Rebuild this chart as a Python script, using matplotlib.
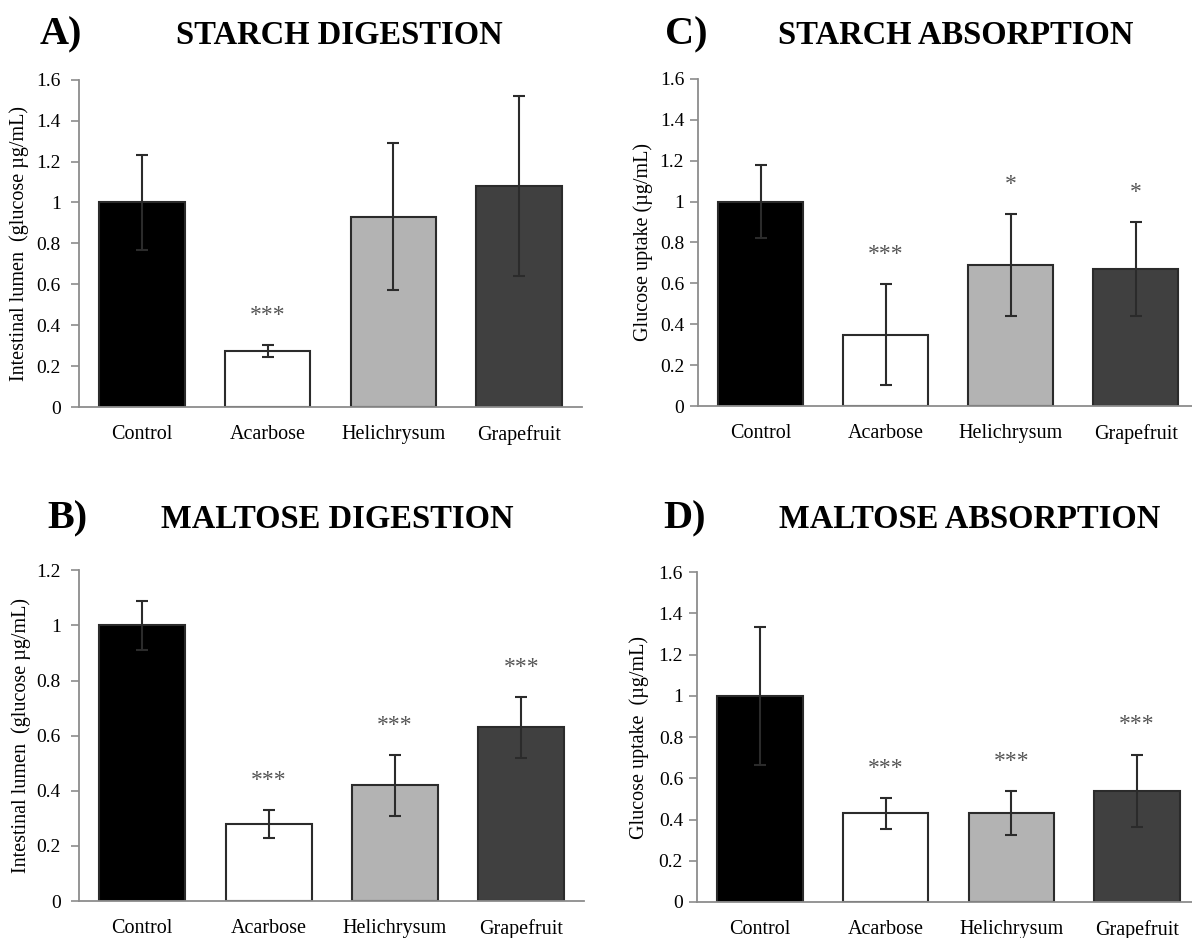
"""Four-panel bar chart: starch/maltose digestion and absorption."""

import matplotlib.pyplot as plt
from matplotlib.ticker import FormatStrFormatter, MultipleLocator

plt.rcParams["font.family"] = ["Liberation Serif", "DejaVu Serif"]

categories = ["Control", "Acarbose", "Helichrysum", "Grapefruit"]
bar_colors = ["#000000", "#ffffff", "#b3b3b3", "#404040"]

# A) starch digestion
starch_dig_mean = [1.00, 0.275, 0.93, 1.08]
starch_dig_err = [0.23, 0.03, 0.36, 0.44]
starch_dig_sig = ["", "***", "", ""]

# B) maltose digestion
maltose_dig_mean = [1.00, 0.28, 0.42, 0.63]
maltose_dig_err = [0.09, 0.05, 0.11, 0.11]
maltose_dig_sig = ["", "***", "***", "***"]

# C) starch absorption
starch_abs_mean = [1.00, 0.35, 0.69, 0.67]
starch_abs_err = [0.18, 0.245, 0.25, 0.23]
starch_abs_sig = ["", "***", "*", "*"]

# D) maltose absorption
maltose_abs_mean = [1.00, 0.43, 0.43, 0.54]
maltose_abs_err = [0.335, 0.075, 0.107, 0.175]
maltose_abs_sig = ["", "***", "***", "***"]

SPINE = "#8c8c8c"
EDGE = "#2b2b2b"


def _bar_panel(ax, means, errs, sigs, ymax, ylabel, label_x, tick_pad):
    x = range(len(categories))
    ax.bar(
        x, means, width=0.68, color=bar_colors, edgecolor=EDGE, linewidth=1.5, zorder=2
    )
    ax.errorbar(
        x, means, yerr=errs, fmt="none", ecolor=EDGE, elinewidth=1.5,
        capsize=4, capthick=1.5, zorder=3,
    )
    for xi, m, e, s in zip(x, means, errs, sigs):
        if s:
            ax.text(xi, m + e + 0.09 * ymax, s, ha="center", va="center",
                    fontsize=17, color="#555555")

    ax.set_xlim(-0.5, len(categories) - 0.5)
    ax.set_ylim(0, ymax)
    ax.yaxis.set_major_locator(MultipleLocator(0.2))
    ax.yaxis.set_major_formatter(FormatStrFormatter("%g"))
    ax.set_xticks(list(x))
    ax.set_xticklabels(categories, fontsize=14.5)
    ax.tick_params(axis="x", length=0, pad=13)
    ax.tick_params(axis="y", length=6, width=1.2, color=SPINE, labelsize=14,
                   pad=tick_pad)
    for side in ("top", "right"):
        ax.spines[side].set_visible(False)
    for side in ("left", "bottom"):
        ax.spines[side].set_color(SPINE)
        ax.spines[side].set_linewidth(1.3)
    ax.set_ylabel(ylabel, fontsize=14.5)
    ax.yaxis.set_label_coords(label_x, 0.5)


fig = plt.figure(figsize=(11.92, 9.38), dpi=100)

ax_a = fig.add_axes([0.0663, 0.566, 0.422, 0.349])
ax_b = fig.add_axes([0.0663, 0.0394, 0.424, 0.3526])
ax_c = fig.add_axes([0.5856, 0.567, 0.4195, 0.349])
ax_d = fig.add_axes([0.5847, 0.0384, 0.422, 0.3516])

_bar_panel(ax_a, starch_dig_mean, starch_dig_err, starch_dig_sig, 1.6,
           "Intestinal lumen  (glucose µg/mL)", -0.099, 7)
_bar_panel(ax_b, maltose_dig_mean, maltose_dig_err, maltose_dig_sig, 1.2,
           "Intestinal lumen  (glucose µg/mL)", -0.095, 7)
_bar_panel(ax_c, starch_abs_mean, starch_abs_err, starch_abs_sig, 1.6,
           "Glucose uptake (µg/mL)", -0.09, 4)
_bar_panel(ax_d, maltose_abs_mean, maltose_abs_err, maltose_abs_sig, 1.6,
           "Glucose uptake  (µg/mL)", -0.095, 4)

headers = [
    ("A)", 61, 35, "STARCH DIGESTION", 339),
    ("C)", 686, 35, "STARCH ABSORPTION", 956),
    ("B)", 67, 519, "MALTOSE DIGESTION", 337),
    ("D)", 685, 519, "MALTOSE ABSORPTION", 970),
]
for letter, lx, y, title, tx in headers:
    fig.text(lx / 1192, 1 - y / 938, letter, ha="center", va="center",
             fontsize=29, fontweight="bold")
    fig.text(tx / 1192, 1 - y / 938, title, ha="center", va="center",
             fontsize=23.5, fontweight="bold")

fig.savefig("out.png", dpi=100)
